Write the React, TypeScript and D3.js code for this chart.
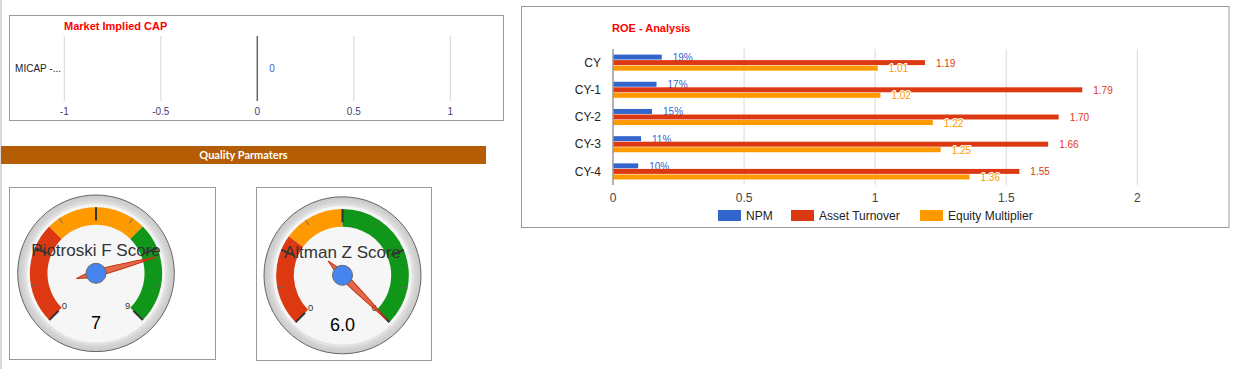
import React from 'react';
import * as d3 from 'd3';

const W = 1236;
const H = 369;
const FONT = 'Arial, "Liberation Sans", sans-serif';

// Market Implied CAP
const micapCategories = ['MICAP -...'];
const micapValues = [0];
const micapTicks = [-1, -0.5, 0, 0.5, 1];

// ROE - Analysis
const roeCategories = ['CY', 'CY-1', 'CY-2', 'CY-3', 'CY-4'];
const roeSeries = ['NPM', 'Asset Turnover', 'Equity Multiplier'];
const roeColors = ['#3366cc', '#dc3912', '#ff9900'];
const npm = [0.186, 0.166, 0.149, 0.107, 0.096];
const assetTurnover = [1.19, 1.79, 1.7, 1.66, 1.55];
const equityMultiplier = [1.01, 1.02, 1.22, 1.25, 1.36];
const roeTicks = [0, 0.5, 1, 1.5, 2];

// Quality gauges
const gaugeTitles = ['Piotroski F Score', 'Altman Z Score'];
const gaugeValues = [7, 6.0];
const gaugeValueText = ['7', '6.0'];
const gaugeMax = [9, 6];
const gaugeRedTo = [3, 1.8];
const gaugeYellowTo = [6, 3];

const rad = (deg: number) => (deg * Math.PI) / 180;

function Gauge({ cx, cy, r, i }: { cx: number; cy: number; r: number; i: number }) {
  const max = gaugeMax[i];
  const angle = d3.scaleLinear().domain([0, max]).range([-135, 135]);
  const band = d3.arc<any>().innerRadius(r * 0.62).outerRadius(r * 0.845);
  const bands = [
    { from: 0, to: gaugeRedTo[i], color: '#dc3912' },
    { from: gaugeRedTo[i], to: gaugeYellowTo[i], color: '#ff9900' },
    { from: gaugeYellowTo[i], to: max, color: '#109618' },
  ];
  const majors = d3.range(5).map((k) => (max * k) / 4);
  const minors = d3.range(4).map((k) => (max * (k + 0.5)) / 4);
  const polar = (v: number, rr: number) => {
    const a = rad(angle(v));
    return [Math.sin(a) * rr, -Math.cos(a) * rr];
  };
  const tick = (v: number, r0: number, r1: number) => {
    const [x0, y0] = polar(v, r0);
    const [x1, y1] = polar(v, r1);
    return { x1: x0, y1: y0, x2: x1, y2: y1 };
  };
  const [l0x, l0y] = polar(0, r * 0.59);
  const [l1x, l1y] = polar(max, r * 0.59);
  return (
    <g transform={`translate(${cx},${cy})`}>
      <defs>
        <radialGradient id={`ring${i}`} cx="50%" cy="50%" r="50%">
          <stop offset="86%" stopColor="#f2f2f2" />
          <stop offset="93%" stopColor="#d6d6d6" />
          <stop offset="100%" stopColor="#c8c8c8" />
        </radialGradient>
      </defs>
      <circle r={r} fill={`url(#ring${i})`} stroke="#666" strokeWidth={1} />
      <circle r={r * 0.895} fill="#f6f6f6" stroke="#e2e2e2" strokeWidth={2} />
      {bands.map((b, k) => (
        <path
          key={k}
          d={band({ startAngle: rad(angle(b.from)), endAngle: rad(angle(b.to)) }) as string}
          fill={b.color}
        />
      ))}
      {minors.map((v, k) => (
        <line key={'m' + k} {...tick(v, r * 0.77, r * 0.845)} stroke="#666" strokeWidth={1} />
      ))}
      {majors.map((v, k) => (
        <line key={'M' + k} {...tick(v, r * 0.675, r * 0.845)} stroke="#333" strokeWidth={2} />
      ))}
      <text x={l0x + 1} y={l0y} dy="0.35em" textAnchor="middle" fontSize={9.5} fill="#333" fontFamily={FONT}>
        0
      </text>
      <text x={l1x - 1} y={l1y} dy="0.35em" textAnchor="middle" fontSize={9.5} fill="#333" fontFamily={FONT}>
        {max}
      </text>
      <text y={-17.6} textAnchor="middle" fontSize={17} fill="#333" fontFamily={FONT}>
        {gaugeTitles[i]}
      </text>
      <text y={56} textAnchor="middle" fontSize={18} fill="#000" fontFamily={FONT}>
        {gaugeValueText[i]}
      </text>
      <g transform={`rotate(${angle(gaugeValues[i])})`}>
        <path
          d={`M0,${-r * 0.8} Q3.6,${-r * 0.2} 3.2,0 Q2.4,${r * 0.14} 0,${r * 0.26} Q-2.4,${r * 0.14} -3.2,0 Q-3.6,${-r * 0.2} 0,${-r * 0.8} Z`}
          fill="#dc3912"
          fillOpacity={0.75}
          stroke="#c63310"
          strokeWidth={1}
        />
      </g>
      <circle r={10} fill="#4684ee" stroke="#666" strokeWidth={1} />
    </g>
  );
}

export default function App() {
  // MICAP scales
  const mx = d3.scaleLinear().domain([-1, 1]).range([64.3, 450.3]);
  const my = d3.scaleBand<string>().domain(micapCategories).range([36, 101]);

  // ROE scales
  const x = d3.scaleLinear().domain([0, 2]).range([613, 1137.3]);
  const y = d3
    .scaleBand<string>()
    .domain(roeCategories)
    .range([49, 185])
    .paddingInner(0.41)
    .paddingOuter(0.205);
  const sub = d3.scaleBand<string>().domain(roeSeries).range([0, y.bandwidth()]).paddingInner(0.1);
  const seriesValues = [npm, assetTurnover, equityMultiplier];
  const fmt = [d3.format('.0%'), d3.format('.2f'), d3.format('.2f')];
  const legendX = [718, 791, 920];

  return (
    <svg
      width={W}
      height={H}
      style={{ position: 'absolute', left: 0, top: 0, background: '#fff' }}
      fontFamily={FONT}
    >
      <rect x={0} y={0} width={2} height={H} fill="#d8d8d8" />

      {/* Market Implied CAP */}
      <rect x={9.5} y={15.5} width={494} height={105} fill="#fff" stroke="#999" />
      <text x={64} y={29.5} fontSize={11} fontWeight="bold" fill="#ff0000">
        Market Implied CAP
      </text>
      {micapTicks.map((t) => (
        <g key={t}>
          {t !== 0 && (
            <line x1={mx(t)} x2={mx(t)} y1={36} y2={101} stroke="#d6d6d6" strokeWidth={1} />
          )}
          <text x={mx(t)} y={111.7} dy="0.35em" textAnchor="middle" fontSize={10} fill="#4b3b70">
            {t}
          </text>
        </g>
      ))}
      <line x1={mx(0)} x2={mx(0)} y1={36} y2={101} stroke="#666" strokeWidth={1.5} />
      {micapCategories.map((c, k) => (
        <g key={c}>
          <text
            x={61}
            y={(my(c) as number) + my.bandwidth() / 2}
            dy="0.35em"
            textAnchor="end"
            fontSize={10}
            fill="#222"
          >
            {c}
          </text>
          <text
            x={mx(micapValues[k]) + 12}
            y={(my(c) as number) + my.bandwidth() / 2}
            dy="0.35em"
            fontSize={10}
            fill="#3366cc"
          >
            {micapValues[k]}
          </text>
        </g>
      ))}

      {/* Quality Parmaters banner */}
      <rect x={1} y={146} width={485} height={18} fill="#b45d05" />
      <text
        x={243.5}
        y={155.5}
        dy="0.35em"
        textAnchor="middle"
        fontSize={11}
        fontWeight="bold"
        fill="#fff"
        fontFamily='Lato, "Open Sans", sans-serif'
      >
        Quality Parmaters
      </text>

      {/* gauges */}
      <rect x={9.5} y={187.5} width={206} height={172} fill="#fff" stroke="#999" />
      <rect x={256.5} y={187.5} width={175} height={173} fill="#fff" stroke="#999" />
      <Gauge cx={96} cy={273.3} r={78.3} i={0} />
      <Gauge cx={342.5} cy={275.3} r={78.5} i={1} />

      {/* ROE - Analysis */}
      <rect x={521.5} y={6.5} width={707.5} height={221} fill="#fff" stroke="#999" />
      <text x={612} y={32} fontSize={11} fontWeight="bold" fill="#ff0000">
        ROE - Analysis
      </text>
      {roeTicks.map((t) => (
        <g key={t}>
          {t !== 0 && <line x1={x(t)} x2={x(t)} y1={49} y2={185} stroke="#d9d9d9" strokeWidth={1} />}
          <text x={x(t)} y={197.7} dy="0.35em" textAnchor="middle" fontSize={12} fill="#444">
            {t}
          </text>
        </g>
      ))}
      {roeCategories.map((c, ci) => (
        <g key={c}>
          <text
            x={601}
            y={(y(c) as number) + y.bandwidth() / 2}
            dy="0.35em"
            textAnchor="end"
            fontSize={12}
            fill="#222"
          >
            {c}
          </text>
          {roeSeries.map((s, si) => {
            const v = seriesValues[si][ci];
            const by = (y(c) as number) + (sub(s) as number);
            return (
              <g key={s}>
                <rect x={x(0)} y={by} width={x(v) - x(0)} height={sub.bandwidth()} fill={roeColors[si]} />
                <text
                  x={x(v) + 11}
                  y={by + sub.bandwidth() / 2 + 0.5}
                  dy="0.35em"
                  fontSize={10}
                  fill={roeColors[si]}
                  stroke="#fff"
                  strokeWidth={2}
                  paintOrder="stroke"
                >
                  {fmt[si](v)}
                </text>
              </g>
            );
          })}
        </g>
      ))}
      <line x1={x(0)} x2={x(0)} y1={49} y2={185} stroke="#999" strokeWidth={1.5} />
      {roeSeries.map((s, si) => (
        <g key={s}>
          <rect x={legendX[si]} y={210} width={23} height={11} fill={roeColors[si]} />
          <text x={legendX[si] + 28} y={215.7} dy="0.35em" fontSize={12} fill="#222">
            {s}
          </text>
        </g>
      ))}
    </svg>
  );
}
